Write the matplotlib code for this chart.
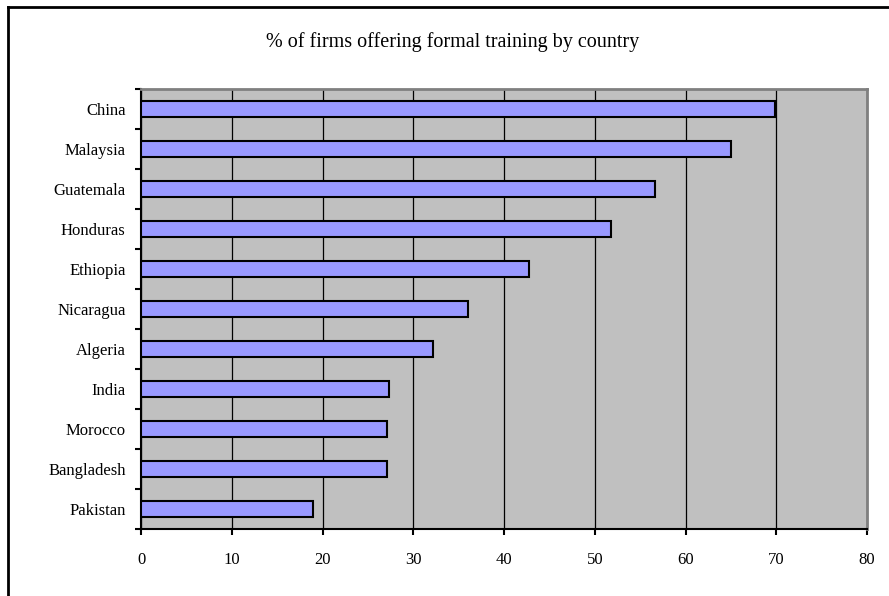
import matplotlib.pyplot as plt
from matplotlib.lines import Line2D
from matplotlib.ticker import MultipleLocator
import numpy as np

countries = ['China', 'Malaysia', 'Guatemala', 'Honduras', 'Ethiopia', 'Nicaragua',
             'Algeria', 'India', 'Morocco', 'Bangladesh', 'Pakistan']
pct_training = [69.9, 65.0, 56.6, 51.8, 42.7, 36.0, 32.2, 27.3, 27.1, 27.1, 19.0]
title = '% of firms offering formal training by country'

plt.rcParams['font.family'] = ['Liberation Serif', 'DejaVu Serif']

fig = plt.figure(figsize=(8.89, 5.96), dpi=100)
ax = fig.add_axes([141 / 889, 1 - 529 / 596, (867 - 141) / 889, (529 - 89) / 596])

# bottom category at position 0, China at top
ypos = np.arange(len(countries))[::-1]
ax.set_facecolor('#c0c0c0')
ax.barh(ypos, pct_training, height=0.38, color='#9999ff', edgecolor='black',
        linewidth=1.5, zorder=3)

ax.set_xlim(0, 80)
ax.set_ylim(-0.5, len(countries) - 0.5)
ax.xaxis.set_major_locator(MultipleLocator(10))
ax.grid(axis='x', color='black', linewidth=0.9, zorder=1)
ax.set_axisbelow(True)

ax.set_yticks(ypos)
ax.set_yticklabels(countries)
ax.set_yticks(np.arange(len(countries) + 1) - 0.5, minor=True)
ax.tick_params(axis='y', which='major', length=0, pad=11, labelsize=12)
ax.tick_params(axis='y', which='minor', length=4.5, width=1.5, direction='out')
ax.tick_params(axis='x', length=4.5, width=1.5, direction='out', pad=12, labelsize=12)

for side in ['left', 'bottom']:
    ax.spines[side].set_color('black')
    ax.spines[side].set_linewidth(1.5)
for side in ['top', 'right']:
    ax.spines[side].set_color('#808080')
    ax.spines[side].set_linewidth(2)

fig.text(453 / 889, 1 - 42 / 596, title, ha='center', va='center', fontsize=14.5)

# chart border (only left and top edges fall inside the image)
fig.add_artist(Line2D([8 / 889, 8 / 889], [0, 1 - 7 / 596], color='black', linewidth=2))
fig.add_artist(Line2D([8 / 889, 1], [1 - 7 / 596, 1 - 7 / 596], color='black', linewidth=2))

fig.savefig('out.png', dpi=100)
